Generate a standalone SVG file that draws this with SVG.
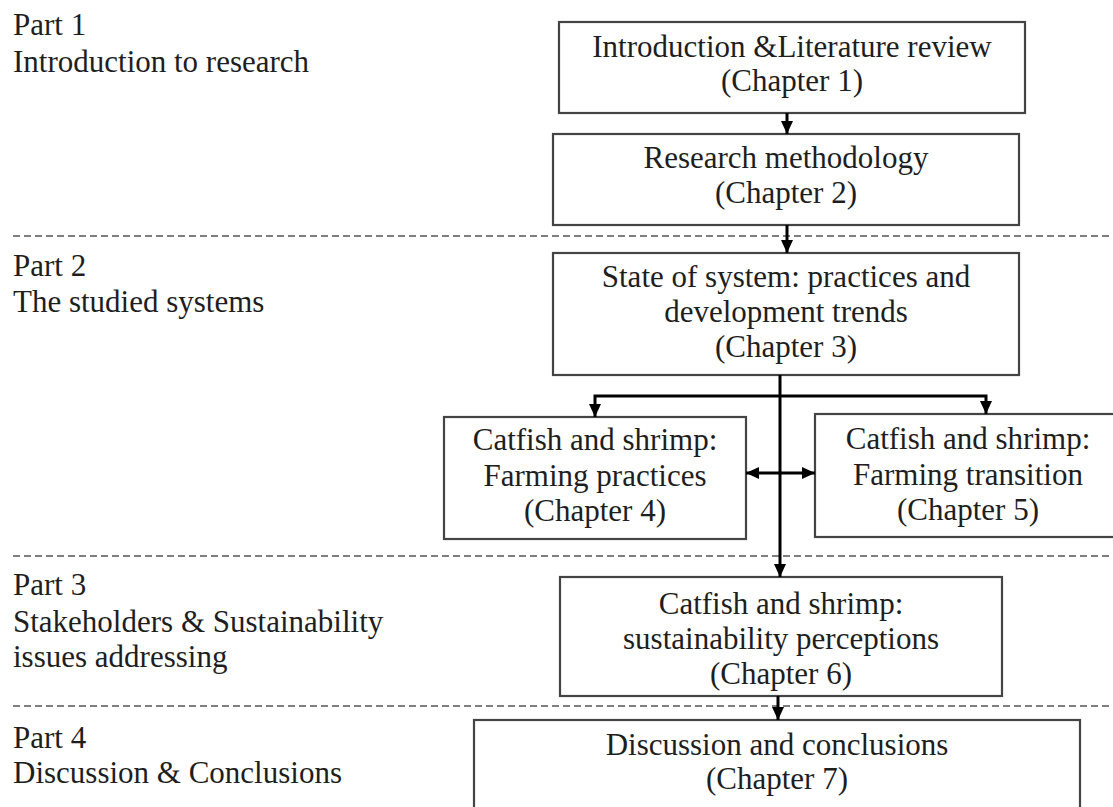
<svg xmlns="http://www.w3.org/2000/svg" width="1113" height="807" viewBox="0 0 1113 807">
<defs>
<marker id="ah" markerUnits="userSpaceOnUse" markerWidth="14" markerHeight="14" viewBox="0 0 14 14" refX="13" refY="7" orient="auto-start-reverse">
<path d="M0,1 L13,7 L0,13 Z" fill="#000"/>
</marker>
<style>
text{font-family:"Liberation Serif","Times New Roman",serif;font-size:31px;fill:#1e1e1e}
.c{text-anchor:middle}
.box{fill:#fff;stroke:#444;stroke-width:2.2}
.dash{stroke:#555;stroke-width:1.6;stroke-dasharray:7 4;fill:none}
.con{stroke:#000;stroke-width:3;fill:none}
</style>
</defs>
<rect width="1113" height="807" fill="#fff"/>
<g id="separators">
<line class="dash" x1="13" y1="236" x2="1113" y2="236"/>
<line class="dash" x1="13" y1="556" x2="1113" y2="556"/>
<line class="dash" x1="13" y1="706" x2="1113" y2="706"/>
</g>
<g id="part1"><text x="13" y="35">Part 1</text><text x="13" y="72">Introduction to research</text></g>
<g id="part2"><text x="13" y="276">Part 2</text><text x="13" y="312">The studied systems</text></g>
<g id="part3"><text x="13" y="595">Part 3</text><text x="13" y="632">Stakeholders &amp; Sustainability</text><text x="13" y="667">issues addressing</text></g>
<g id="part4"><text x="13" y="748">Part 4</text><text x="13" y="783">Discussion &amp; Conclusions</text></g>
<g id="ch1"><rect class="box" x="559" y="22" width="466" height="91"/><text class="c" x="792" y="57">Introduction &amp;Literature review</text><text class="c" x="792" y="91">(Chapter 1)</text></g>
<g id="ch2"><rect class="box" x="553" y="134" width="466" height="91"/><text class="c" x="786" y="168">Research methodology</text><text class="c" x="786" y="203">(Chapter 2)</text></g>
<g id="ch3"><rect class="box" x="553" y="253" width="466" height="122"/><text class="c" x="786" y="287">State of system: practices and</text><text class="c" x="786" y="322">development trends</text><text class="c" x="786" y="357">(Chapter 3)</text></g>
<g id="ch4"><rect class="box" x="444" y="417" width="302" height="122"/><text class="c" x="595" y="450">Catfish and shrimp:</text><text class="c" x="595" y="486">Farming practices</text><text class="c" x="595" y="521">(Chapter 4)</text></g>
<g id="ch5"><rect class="box" x="815" y="414" width="310" height="123"/><text class="c" x="968" y="449">Catfish and shrimp:</text><text class="c" x="968" y="485">Farming transition</text><text class="c" x="968" y="520">(Chapter 5)</text></g>
<g id="ch6"><rect class="box" x="560" y="577" width="442" height="119"/><text class="c" x="781" y="614">Catfish and shrimp:</text><text class="c" x="781" y="649">sustainability perceptions</text><text class="c" x="781" y="684">(Chapter 6)</text></g>
<g id="ch7"><rect class="box" x="474" y="720" width="606" height="100"/><text class="c" x="777" y="755">Discussion and conclusions</text><text class="c" x="777" y="789">(Chapter 7)</text></g>
<g id="connectors">
<line class="con" x1="787" y1="113" x2="787" y2="134" marker-end="url(#ah)"/>
<line class="con" x1="787" y1="225" x2="787" y2="253" marker-end="url(#ah)"/>
<line class="con" x1="780" y1="375" x2="780" y2="577" marker-end="url(#ah)"/>
<polyline class="con" points="595,417 595,396 986,396 986,414" marker-start="url(#ah)" marker-end="url(#ah)"/>
<line class="con" x1="746" y1="473" x2="815" y2="473" marker-start="url(#ah)" marker-end="url(#ah)"/>
<line class="con" x1="778" y1="696" x2="778" y2="720" marker-end="url(#ah)"/>
</g>
</svg>
